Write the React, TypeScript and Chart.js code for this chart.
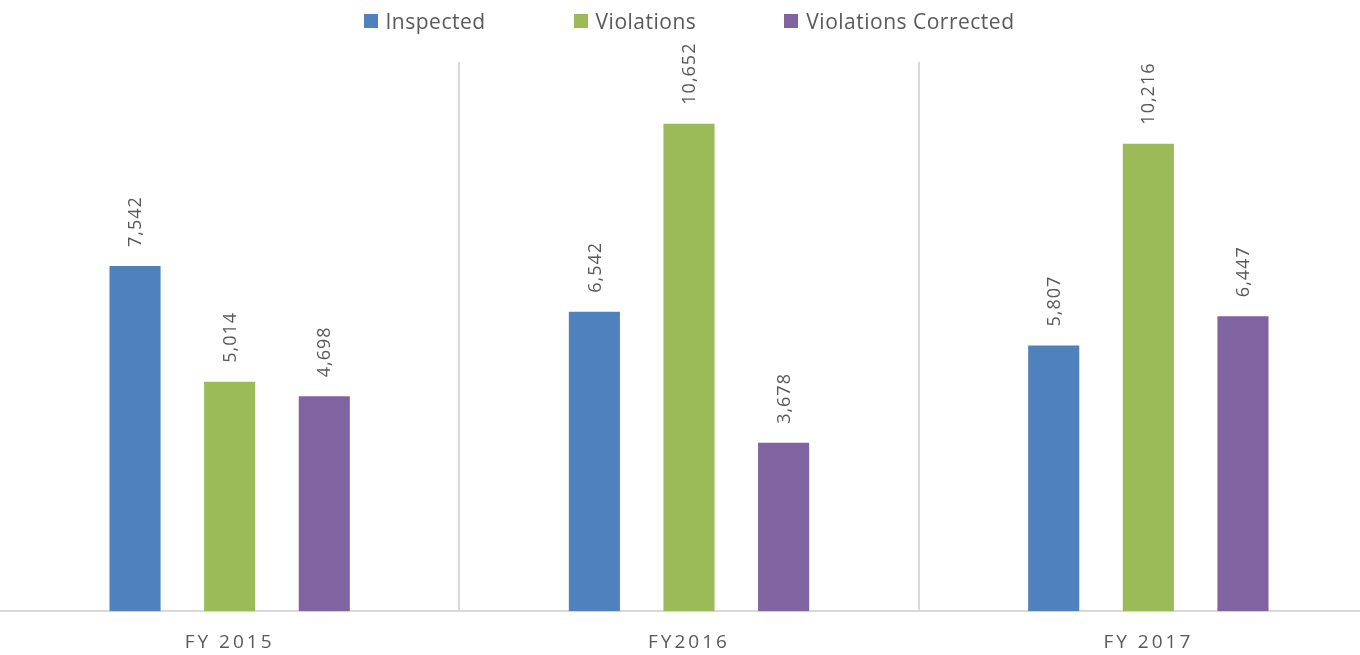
import React, { useEffect, useRef } from 'react';
import { Chart, registerables } from 'chart.js';

Chart.register(...registerables);

const categories = ['FY 2015', 'FY2016', 'FY 2017'];
const seriesNames = ['Inspected', 'Violations', 'Violations Corrected'];
const inspected = [7542, 6542, 5807];
const violations = [5014, 10652, 10216];
const corrected = [4698, 3678, 6447];
const seriesColors = ['#4F81BD', '#9BBB59', '#8064A2'];
const yMin = 0;
const yMax = 12000;

const TEXT = '#595959';
const GRID = '#d9d9d9';
const FONT = "'Open Sans', 'DejaVu Sans', sans-serif";

const barLabels = {
  id: 'barLabels',
  afterDatasetsDraw(chart: any) {
    const ctx = chart.ctx;
    ctx.save();
    ctx.font = `18px ${FONT}`;
    ctx.fillStyle = TEXT;
    ctx.letterSpacing = '1px';
    ctx.textAlign = 'left';
    ctx.textBaseline = 'middle';
    chart.data.datasets.forEach((ds: any, di: number) => {
      const meta = chart.getDatasetMeta(di);
      meta.data.forEach((el: any, i: number) => {
        const v = ds.data[i];
        ctx.save();
        ctx.translate(el.x + 1, el.y - 19);
        ctx.rotate(-Math.PI / 2);
        ctx.fillText(Number(v).toLocaleString('en-US'), 0, 0);
        ctx.restore();
      });
    });
    ctx.restore();
    // x tick labels are drawn after datasets (ticks.z = 1): letter-spaced
    ctx.letterSpacing = '3px';
  },
  afterDraw(chart: any) {
    chart.ctx.letterSpacing = '0px';
  },
};

export default function App() {
  const canvasRef = useRef<HTMLCanvasElement | null>(null);

  useEffect(() => {
    if (!canvasRef.current) return;
    const values = [inspected, violations, corrected];
    const chart = new Chart(canvasRef.current, {
      type: 'bar',
      data: {
        labels: categories,
        datasets: seriesNames.map((name, i) => ({
          label: name,
          data: values[i],
          backgroundColor: seriesColors[i],
          borderWidth: 0,
          categoryPercentage: 0.618,
          barPercentage: 0.54,
        })),
      },
      options: {
        animation: false,
        responsive: false,
        events: [],
        layout: { padding: { top: 62, bottom: 1, left: 0, right: 0 } },
        plugins: {
          legend: { display: false },
          tooltip: { enabled: false },
        },
        scales: {
          x: {
            offset: true,
            grid: {
              display: true,
              offset: true,
              drawTicks: false,
              lineWidth: 2,
              color: (c: any) => (c.index === 0 ? 'rgba(0,0,0,0)' : GRID),
            },
            border: { display: true, color: GRID, width: 2 },
            ticks: {
              z: 1,
              padding: 20,
              color: TEXT,
              font: { family: FONT, size: 19 },
            },
          },
          y: {
            display: false,
            min: yMin,
            max: yMax,
          },
        },
      },
      plugins: [barLabels],
    });
    return () => chart.destroy();
  }, []);

  return (
    <div
      style={{
        position: 'fixed',
        left: 0,
        top: 0,
        width: 1360,
        height: 655,
        overflow: 'hidden',
        background: '#ffffff',
        fontFamily: FONT,
      }}
    >
      <div style={{ position: 'absolute', left: 0, top: 0, width: 1378, height: 675 }}>
        <canvas ref={canvasRef} width={1378} height={675} style={{ display: 'block' }} />
      </div>
      <div
        style={{
          position: 'absolute',
          left: 0,
          top: 7,
          width: 1378,
          height: 28,
          display: 'flex',
          justifyContent: 'center',
          alignItems: 'center',
          gap: 88,
          color: TEXT,
          fontSize: 21,
          letterSpacing: '0.5px',
          lineHeight: '28px',
          whiteSpace: 'nowrap',
        }}
      >
        {seriesNames.map((name, i) => (
          <div key={name} style={{ display: 'flex', alignItems: 'center' }}>
            <span
              style={{
                display: 'inline-block',
                width: 14,
                height: 14,
                background: seriesColors[i],
                marginRight: 8,
              }}
            />
            <span>{name}</span>
          </div>
        ))}
      </div>
    </div>
  );
}
